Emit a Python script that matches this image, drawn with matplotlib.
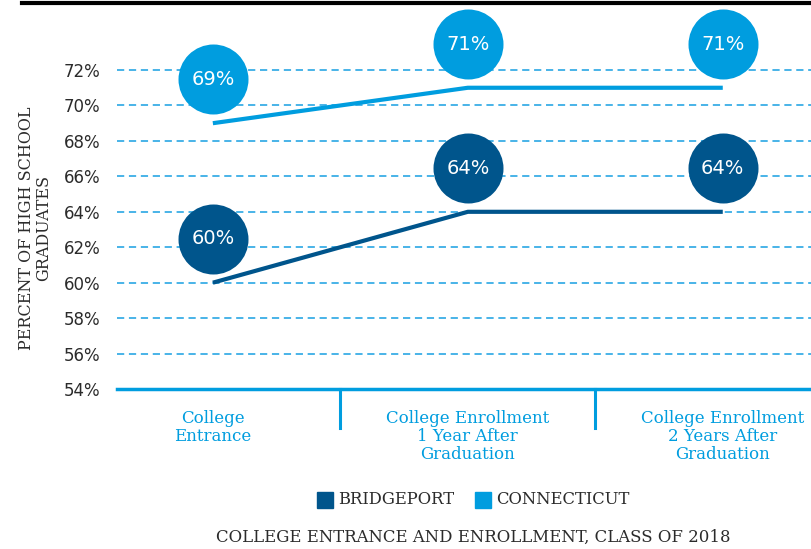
import matplotlib
matplotlib.use("Agg")
import matplotlib.pyplot as plt
import matplotlib.transforms as mtransforms
from matplotlib.lines import Line2D
from matplotlib.patches import Rectangle

# Data
categories = ["College\nEntrance",
              "College Enrollment\n1 Year After\nGraduation",
              "College Enrollment\n2 Years After\nGraduation"]
bridgeport = [60, 64, 64]
connecticut = [69, 71, 71]
yticks = [54, 56, 58, 60, 62, 64, 66, 68, 70, 72]
series_names = ["BRIDGEPORT", "CONNECTICUT"]

DARK = "#00558c"
LIGHT = "#009ddf"
GRID = "#3aaee6"
TEXT = "#2b2b2b"
SLAB = ["DejaVu Serif"]
SANS = ["DejaVu Sans"]

W, H = 812, 549
fig = plt.figure(figsize=(W / 100, H / 100), dpi=100)
ax = fig.add_axes([117 / W, 1 - 389 / H, 1 - 117 / W, (389 - 8) / H])
ax.set_xlim(-0.376, 2.35)
ax.set_ylim(54, 54 + 381 / 17.72)

for s in ax.spines.values():
    s.set_visible(False)
ax.set_xticks([])
ax.set_yticks(yticks)
ax.set_yticklabels([f"{v}%" for v in yticks], fontsize=12, color=TEXT, family=SANS)
ax.tick_params(axis="y", length=0, pad=12)

# dashed guides
for v in yticks[1:]:
    ax.axhline(v, color=GRID, lw=1.3, ls=(0, (4, 2.6)), zorder=1)
# baseline
ax.axhline(54, color=LIGHT, lw=2.5, zorder=2, clip_on=False)

xs = list(range(len(categories)))
ax.plot(xs, connecticut, color=LIGHT, lw=3, solid_capstyle="butt", zorder=3)
ax.plot(xs, bridgeport, color=DARK, lw=3, solid_capstyle="butt", zorder=3)

# value bubbles floating above each point
bubble_tr = mtransforms.offset_copy(ax.transData, fig=fig, y=31.5, units="points")
for vals, col in ((connecticut, LIGHT), (bridgeport, DARK)):
    ax.scatter(xs, vals, s=2540, color=col, transform=bubble_tr, zorder=4,
               clip_on=False, linewidths=0)
    for x, v in zip(xs, vals):
        ax.text(x, v, f"{v}%", transform=bubble_tr, ha="center", va="center",
                color="white", fontsize=14, zorder=5, family=SANS)

# category dividers and labels below the baseline
trans_x = mtransforms.blended_transform_factory(ax.transData, fig.transFigure)
for xd in (0.5, 1.5):
    ax.add_line(Line2D([xd, xd], [1 - 389 / H, 1 - 428 / H], transform=trans_x,
                       color=LIGHT, lw=2.2, clip_on=False))
for x, lab in zip(xs, categories):
    ax.text(x, 1 - 410 / H, lab, transform=trans_x, ha="center", va="top",
            color=LIGHT, fontsize=12, linespacing=1.08, family=SLAB)

# y-axis title
fig.text(35 / W, 1 - 228 / H, "PERCENT OF HIGH SCHOOL\nGRADUATES", rotation=90,
         ha="center", va="center", fontsize=11.5, color=TEXT, family=SLAB,
         linespacing=1.0, multialignment="center")

# top rule
fig.add_artist(Line2D([22 / W, 1], [1 - 3 / H, 1 - 3 / H], color="black", lw=3))

# legend
for (x0, tx), name, col in zip(((317, 338), (475, 496)), series_names, (DARK, LIGHT)):
    fig.add_artist(Rectangle((x0 / W, 1 - 508 / H), 16 / W, 16 / H,
                             transform=fig.transFigure, color=col))
    fig.text(tx / W, 1 - 500 / H, name, ha="left", va="center", fontsize=11.8,
             color=TEXT, family=SLAB)

fig.text(473 / W, 1 - 537 / H, "COLLEGE ENTRANCE AND ENROLLMENT, CLASS OF 2018",
         ha="center", va="center", fontsize=11.9, color=TEXT, family=SLAB)

fig.savefig("out.png", dpi=100)
